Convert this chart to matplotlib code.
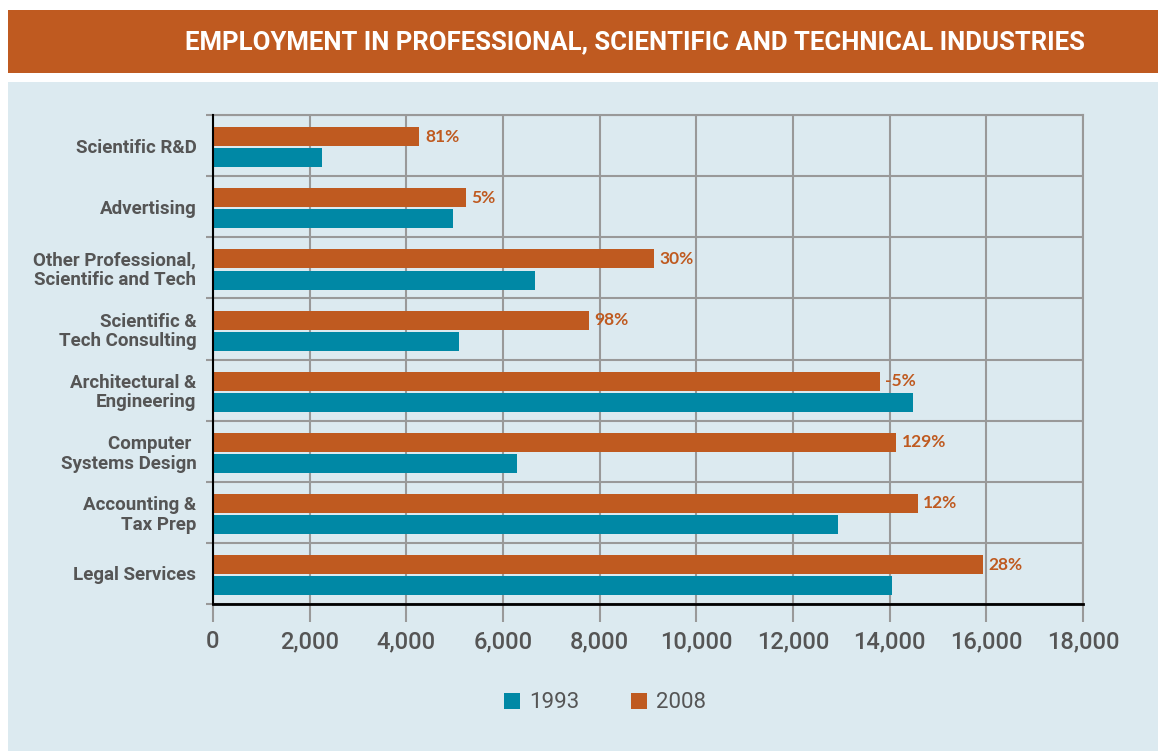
import matplotlib as mpl
mpl.use('Agg')

import matplotlib.pyplot as plt
import numpy as np
from matplotlib.patches import Rectangle, Patch

categories = [
    "Scientific R&D",
    "Advertising",
    "Other Professional,\nScientific and Tech",
    "Scientific &\nTech Consulting",
    "Architectural &\nEngineering",
    "Computer \nSystems Design",
    "Accounting &\nTax Prep",
    "Legal Services",
]
jobs_1993 = [2250, 4960, 6670, 5080, 14490, 6290, 12940, 14040]
jobs_2008 = [4270, 5230, 9120, 7770, 13790, 14130, 14580, 15935]
change_labels = ["81%", "5%", "30%", "98%", "-5%", "129%", "12%", "28%"]
xticks = [0, 2000, 4000, 6000, 8000, 10000, 12000, 14000, 16000, 18000]

orange = "#BF5A20"
teal = "#0088A5"
panel = "#DCEAF0"
grid = "#999999"
txt = "#555555"

cond = ["Roboto", "DejaVu Sans"]

fig = plt.figure(figsize=(11.58, 7.51), dpi=100, facecolor="white")
W, H = 1158, 751

# title banner and light panel behind everything
fig.patches.append(Rectangle((8 / W, 1 - 73 / H), 1, 63 / H, transform=fig.transFigure,
                             facecolor=orange, edgecolor="none", zorder=-2))
fig.patches.append(Rectangle((8 / W, 0), 1, 1 - 82 / H, transform=fig.transFigure,
                             facecolor=panel, edgecolor="none", zorder=-2))
fig.text(1085 / W, 1 - 42 / H, "EMPLOYMENT IN PROFESSIONAL, SCIENTIFIC AND TECHNICAL INDUSTRIES",
         color="white", fontsize=18.5, fontweight="bold", family=cond, ha="right", va="center")

ax = fig.add_axes([213 / W, 1 - 604 / H, (1083 - 213) / W, (604 - 115) / H])
ax.set_zorder(1)
ax.set_facecolor(panel)

y = np.arange(len(categories))
ax.barh(y - 0.145, jobs_2008, height=0.31, color=orange, zorder=3)
ax.barh(y + 0.2, jobs_1993, height=0.31, color=teal, zorder=3)

for yi, v, lab in zip(y, jobs_2008, change_labels):
    ax.annotate(lab, (v, yi - 0.145), xytext=(4, 0), textcoords="offset points",
                ha="left", va="center", color=orange, fontsize=12.5, family=["Lato", "DejaVu Sans"],
                fontweight="bold")

ax.set_xlim(0, 18000)
ax.set_ylim(len(categories) - 0.5, -0.5)
ax.set_xticks(xticks)
ax.set_xticklabels(["{:,}".format(t) for t in xticks], family=cond, fontsize=17, color=txt,
                   fontweight="medium")
ax.set_yticks(y)
ax.set_yticklabels(categories, family=cond, fontsize=13.5, color=txt, fontweight="bold",
                   linespacing=1.1)
ax.set_yticks(np.arange(len(categories) + 1) - 0.5, minor=True)

ax.tick_params(axis="x", length=13, width=1.5, color=grid, pad=6)
ax.tick_params(axis="y", which="major", length=0, pad=12)
ax.tick_params(axis="y", which="minor", length=5, width=1.5, color=grid)
ax.xaxis.get_major_ticks()[0].tick1line.set_color("black")

ax.grid(axis="x", which="major", color=grid, lw=1.5, zorder=1)
ax.grid(axis="y", which="minor", color=grid, lw=1.5, zorder=1)

for s in ["top", "right"]:
    ax.spines[s].set_color(grid)
    ax.spines[s].set_linewidth(1.5)
ax.spines["left"].set_color("black")
ax.spines["left"].set_linewidth(1.5)
ax.spines["left"].set_zorder(4)
ax.spines["bottom"].set_color("black")
ax.spines["bottom"].set_linewidth(2)
ax.spines["bottom"].set_zorder(4)

handles = [Patch(facecolor=teal, label="1993"), Patch(facecolor=orange, label="2008")]
leg = fig.legend(handles=handles, loc="center", bbox_to_anchor=(605 / W, 1 - 703 / H), ncol=2,
                 frameon=False, handlelength=0.75, handleheight=0.75, handletextpad=0.4,
                 columnspacing=2.3, prop={"family": cond, "size": 16})
for t in leg.get_texts():
    t.set_color(txt)

fig.savefig("out.png", dpi=100, facecolor="white")
